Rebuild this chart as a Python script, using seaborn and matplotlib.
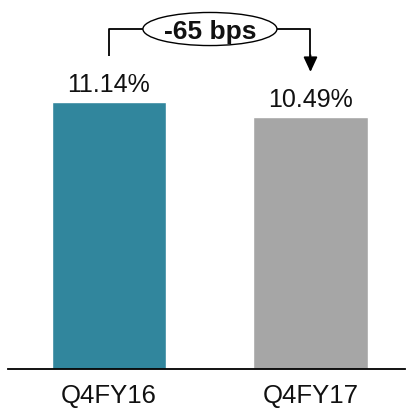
import matplotlib
matplotlib.use("Agg")
import matplotlib.pyplot as plt
from matplotlib.patches import Ellipse
import seaborn as sns
import pandas as pd

periods = ["Q4FY16", "Q4FY17"]
ratios = [11.14, 10.49]
bar_colors = ["#31869D", "#A6A6A6"]
change_label = "-65 bps"

sns.set_theme(style="white")
plt.rcParams["font.family"] = ["Liberation Sans", "DejaVu Sans"]

df = pd.DataFrame({"period": periods, "ratio": ratios})

fig = plt.figure(figsize=(4.07, 4.13), dpi=100)
ax = fig.add_axes([8 / 407, 44 / 413, 397 / 407, 369 / 413])

sns.barplot(data=df, x="period", y="ratio", hue="period", palette=bar_colors,
            width=0.566, saturation=1, legend=False, ax=ax)

ax.set_xlim(-0.501, 1.469)
ax.set_ylim(0, 15.39)
ax.set_xlabel("")
ax.set_ylabel("")
ax.set_yticks([])
ax.tick_params(axis="x", length=0, pad=11, labelsize=18.5, labelcolor="#111111")
for side in ["top", "left", "right"]:
    ax.spines[side].set_visible(False)
ax.spines["bottom"].set_color("black")
ax.spines["bottom"].set_linewidth(1.3)

# value labels above each bar
for i, v in enumerate(ratios):
    ax.annotate(f"{v:.2f}%", (i, v), xytext=(0, 7.2), textcoords="offset points",
                ha="center", va="baseline", fontsize=18, color="#111111")

# bracket showing the change between the two periods
y_top = ratios[0] + 3.04
y_start = ratios[0] + 1.92
y_tip = ratios[1] + 1.90
ell_cx, ell_w, ell_h = 0.501, 0.665, 1.38
ax.plot([0, 0, ell_cx - ell_w / 2], [y_start, y_top, y_top],
        color="black", lw=1.3, solid_capstyle="butt", clip_on=False)
ax.plot([ell_cx + ell_w / 2, 1, 1], [y_top, y_top, y_tip + 0.6],
        color="black", lw=1.3, solid_capstyle="butt", clip_on=False)
ax.annotate("", xy=(1, y_tip), xytext=(1, y_tip + 0.7),
            arrowprops=dict(arrowstyle="-|>,head_length=0.75,head_width=0.35",
                            color="black", lw=1.3, shrinkA=0, shrinkB=0),
            annotation_clip=False)
ax.add_patch(Ellipse((ell_cx, y_top), ell_w, ell_h, facecolor="white",
                     edgecolor="black", lw=1.0, clip_on=False, zorder=3))
ax.text(ell_cx, y_top, change_label, ha="center", va="center_baseline", fontsize=19,
        fontweight="bold", color="#111111", zorder=4)

fig.savefig("out.png", dpi=100)
